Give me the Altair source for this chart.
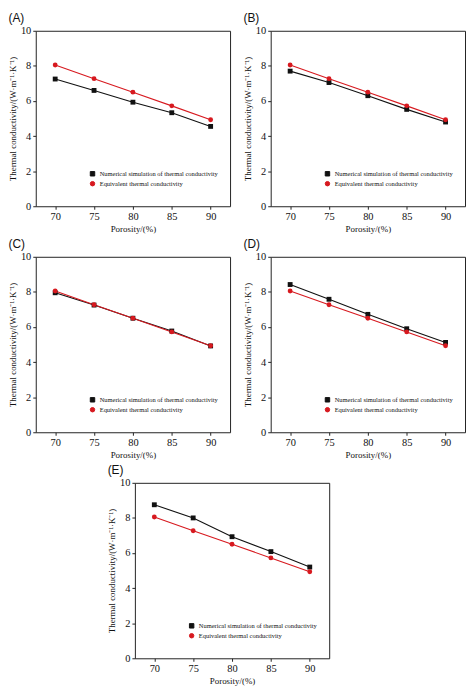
import altair as alt
import pandas as pd

porosity = [70, 75, 80, 85, 90]
equivalent = [8.05, 7.27, 6.50, 5.72, 4.93]
numerical_a = [7.25, 6.60, 5.93, 5.33, 4.55]
numerical_b = [7.70, 7.05, 6.30, 5.52, 4.80]
numerical_c = [7.95, 7.25, 6.50, 5.77, 4.92]
numerical_d = [8.42, 7.58, 6.72, 5.90, 5.12]
numerical_e = [8.75, 8.00, 6.93, 6.08, 5.20]
panel_labels = ["(A)", "(B)", "(C)", "(D)", "(E)"]
series_names = ["Numerical simulation of thermal conductivity", "Equivalent thermal conductivity"]
series_colors = ["#111111", "#d7191f"]
series_shapes = ["square", "circle"]
x_ticks = [70, 75, 80, 85, 90]
y_ticks = [0, 2, 4, 6, 8, 10]
x_title = "Porosity/(%)"
y_title = "Thermal conductivity/(W·m⁻¹·K⁻¹)"

W, H = 196, 177


def panel(label, numerical):
    df = pd.DataFrame({
        "porosity": porosity * 2,
        "k": numerical + equivalent,
        "series": [series_names[0]] * len(porosity) + [series_names[1]] * len(porosity),
    })
    leg = alt.Legend(title=None, orient="none", legendX=54, legendY=141)
    x = alt.X("porosity:Q", scale=alt.Scale(domain=[67.5, 92.5], nice=False, zero=False),
              axis=alt.Axis(values=x_ticks, title=x_title))
    y = alt.Y("k:Q", scale=alt.Scale(domain=[0, 10], nice=False),
              axis=alt.Axis(values=y_ticks, title=y_title))
    color = alt.Color("series:N", scale=alt.Scale(domain=series_names, range=series_colors), legend=leg)
    shape = alt.Shape("series:N", scale=alt.Scale(domain=series_names, range=series_shapes), legend=leg)
    base = alt.Chart(df).encode(x=x, y=y, color=color)
    line = base.mark_line(strokeWidth=1.1)
    pts = base.mark_point(filled=True, size=24, opacity=1).encode(shape=shape)
    return alt.layer(line, pts).properties(
        width=W, height=H,
        title=alt.TitleParams(label, anchor="start", frame="bounds", offset=1),
    )


spacer = alt.Chart(pd.DataFrame({"s": [0]})).mark_point(opacity=0).encode(
    x=alt.X("s:Q", axis=None), y=alt.Y("s:Q", axis=None)
).properties(width=72, height=H, view=alt.ViewBackground(strokeOpacity=0))

row1 = alt.hconcat(panel(panel_labels[0], numerical_a), panel(panel_labels[1], numerical_b), spacing=12).resolve_scale(color="independent", shape="independent")
row2 = alt.hconcat(panel(panel_labels[2], numerical_c), panel(panel_labels[3], numerical_d), spacing=12).resolve_scale(color="independent", shape="independent")
row3 = alt.hconcat(spacer, panel(panel_labels[4], numerical_e), spacing=0).resolve_scale(color="independent", shape="independent")

chart = alt.vconcat(row1, row2, row3, spacing=3).resolve_scale(
    color="independent", shape="independent"
).properties(padding=0).configure_view(
    stroke="#222222", strokeWidth=1
).configure_axis(
    domain=False, grid=False, labelFont="Liberation Serif", labelFontSize=10.5, labelColor="#111111",
    titleFont="Liberation Serif", titleFontSize=9, titleFontWeight="normal", titleColor="#111111",
    tickSize=3, tickColor="#222222", labelPadding=2, titlePadding=3,
).configure_legend(
    labelFont="Liberation Serif", labelFontSize=6.5, labelColor="#111111", symbolSize=20,
    rowPadding=1, padding=0, labelLimit=0, symbolStrokeWidth=1,
).configure_title(
    font="Liberation Sans", fontSize=12, fontWeight="normal", color="#111111"
)

chart.save("out.html", embed_options={"renderer": "svg", "actions": False})
